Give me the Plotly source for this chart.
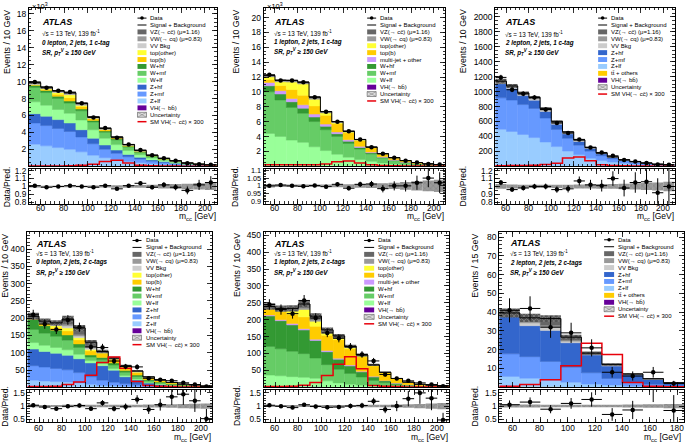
import numpy as np
import plotly.graph_objects as go

W, H = 685, 447
FONT = "Liberation Sans, Arial, sans-serif"

# ---------------- binning ----------------
centers10 = [55, 65, 75, 85, 95, 105, 115, 125, 135, 145, 155, 165, 175, 185, 195, 205]
edges10 = [50, 60, 70, 80, 90, 100, 110, 120, 130, 140, 150, 160, 170, 180, 190, 200, 210]
centers15 = [57.5, 72.5, 87.5, 102.5, 117.5, 132.5, 147.5, 162.5, 177.5]
edges15 = [50, 65, 80, 95, 110, 125, 140, 155, 170, 185]
xticks10 = [60, 80, 100, 120, 140, 160, 180, 200]
xticks15 = [60, 80, 100, 120, 140, 160, 180]

# ---------------- panel 1: 0 lepton, 1 c-tag (x10^3) ----------------
p1_data = [9.96, 9.26, 8.91, 8.76, 7.44, 5.77, 4.52, 3.36, 2.58, 1.92, 1.30, 0.95, 0.64, 0.37, 0.25, 0.17]
p1_ratio = [1.01, 0.99, 1.0, 1.01, 1.0, 0.99, 1.01, 0.97, 1.01, 1.04, 0.99, 1.02, 0.99, 0.95, 1.02, 1.05]
p1_VHbb = [0.01, 0.01, 0.01, 0.01, 0.01, 0.01, 0.01, 0.01, 0.005, 0.005, 0.003, 0.002, 0.001, 0.001, 0.001, 0.001]
p1_Zlf = [2.6, 2.4, 2.2, 2.0, 1.7, 1.3, 1.0, 0.76, 0.56, 0.42, 0.3, 0.22, 0.15, 0.1, 0.07, 0.05]
p1_Zmf = [2.5, 2.4, 2.25, 2.1, 1.75, 1.35, 1.0, 0.76, 0.56, 0.42, 0.3, 0.22, 0.15, 0.09, 0.06, 0.04]
p1_Zhf = [1.1, 1.1, 1.05, 1.0, 0.85, 0.65, 0.5, 0.38, 0.28, 0.21, 0.15, 0.11, 0.07, 0.05, 0.03, 0.02]
p1_Wlf = [1.4, 1.3, 1.2, 1.15, 1.15, 1.0, 0.8, 0.65, 0.47, 0.31, 0.22, 0.15, 0.11, 0.06, 0.034, 0.02]
p1_Wmf = [1.7, 1.5, 1.3, 1.2, 1.1, 0.92, 0.7, 0.56, 0.4, 0.28, 0.2, 0.13, 0.1, 0.05, 0.03, 0.018]
p1_Whf = [0.26, 0.25, 0.25, 0.24, 0.2, 0.18, 0.16, 0.13, 0.1, 0.06, 0.05, 0.03, 0.02, 0.014, 0.006, 0.005]
p1_topb = [0.05, 0.1, 0.25, 0.4, 0.3, 0.2, 0.15, 0.1, 0.1, 0.08, 0.05, 0.03, 0.02, 0.01, 0.005, 0.003]
p1_topo = [0.05, 0.1, 0.2, 0.35, 0.15, 0.06, 0.04, 0.03, 0.02, 0.02, 0.01, 0.01, 0.005, 0.003, 0.002, 0.001]
p1_VV = [0.05, 0.05, 0.05, 0.05, 0.04, 0.04, 0.03, 0.03, 0.02, 0.02, 0.01, 0.01, 0.01, 0.005, 0.003, 0.002]
p1_VW = [0.1, 0.1, 0.1, 0.1, 0.1, 0.05, 0.04, 0.03, 0.02, 0.02, 0.01, 0.01, 0.01, 0.005, 0.003, 0.002]
p1_VZ = [0.05, 0.05, 0.06, 0.08, 0.1, 0.08, 0.05, 0.03, 0.02, 0.01, 0.01, 0.01, 0.005, 0.003, 0.002, 0.001]
p1_sig = [0.02, 0.03, 0.04, 0.07, 0.12, 0.25, 0.55, 0.7, 0.4, 0.12, 0.05, 0.03, 0.02, 0.01, 0.01, 0.01]
p1_unc = [0.012, 0.01, 0.01, 0.01, 0.01, 0.012, 0.012, 0.015, 0.015, 0.018, 0.02, 0.025, 0.03, 0.035, 0.04, 0.045]

# ---------------- panel 2: 1 lepton, 1 c-tag (x10^3) ----------------
p2_data = [12.3, 11.55, 11.55, 11.3, 9.3, 7.35, 6.0, 4.7, 3.6, 2.57, 1.69, 1.16, 0.76, 0.5, 0.32, 0.23]
p2_ratio = [1.0, 1.005, 1.0, 0.997, 1.002, 0.995, 1.01, 0.985, 1.01, 1.012, 0.982, 1.0, 1.0, 1.02, 1.05, 1.02]
p2_VHbb = [0.02, 0.02, 0.02, 0.02, 0.02, 0.02, 0.02, 0.02, 0.01, 0.01, 0.005, 0.003, 0.002, 0.001, 0.001, 0.001]
p2_Wlf = [4.4, 4.0, 3.5, 3.2, 2.6, 2.1, 1.6, 1.2, 0.9, 0.65, 0.45, 0.3, 0.2, 0.13, 0.08, 0.05]
p2_Wmf = [5.6, 4.9, 4.4, 3.9, 3.4, 2.8, 2.4, 1.85, 1.4, 1.0, 0.65, 0.45, 0.3, 0.2, 0.13, 0.09]
p2_Whf = [0.8, 0.8, 0.75, 0.7, 0.6, 0.45, 0.35, 0.3, 0.22, 0.15, 0.1, 0.07, 0.05, 0.03, 0.02, 0.015]
p2_mj = [0.45, 0.45, 0.45, 0.45, 0.4, 0.3, 0.25, 0.2, 0.15, 0.1, 0.07, 0.05, 0.03, 0.02, 0.015, 0.01]
p2_topb = [0.4, 0.7, 1.2, 1.3, 1.1, 1.2, 1.1, 0.95, 0.8, 0.6, 0.38, 0.26, 0.17, 0.11, 0.07, 0.055]
p2_topo = [0.35, 0.5, 1.0, 1.5, 0.9, 0.3, 0.15, 0.1, 0.07, 0.04, 0.02, 0.015, 0.01, 0.005, 0.003, 0.002]
p2_VW = [0.15, 0.15, 0.15, 0.15, 0.15, 0.1, 0.08, 0.05, 0.03, 0.02, 0.01, 0.01, 0.005, 0.003, 0.002, 0.001]
p2_VZ = [0.05, 0.05, 0.08, 0.1, 0.15, 0.1, 0.07, 0.05, 0.03, 0.01, 0.01, 0.005, 0.003, 0.002, 0.001, 0.001]
p2_sig = [0.2, 0.2, 0.2, 0.2, 0.22, 0.3, 0.6, 0.7, 0.45, 0.2, 0.12, 0.08, 0.05, 0.03, 0.02, 0.01]
p2_unc = [0.01, 0.008, 0.008, 0.008, 0.008, 0.008, 0.009, 0.01, 0.012, 0.014, 0.016, 0.02, 0.025, 0.03, 0.035, 0.04]

# ---------------- panel 3: 2 lepton, 1 c-tag ----------------
p3_data = [1190, 1025, 970, 920, 760, 580, 445, 360, 250, 185, 140, 85, 65, 45, 25, 20]
p3_ratio = [1.05, 0.96, 0.98, 1.0, 1.0, 0.96, 0.97, 1.07, 1.02, 1.01, 1.1, 0.98, 1.05, 1.06, 0.92, 1.0]
p3_VHbb = [1, 1, 1, 1, 1, 1, 1, 1, 0.5, 0.5, 0.3, 0.2, 0.1, 0.1, 0.1, 0.1]
p3_tt = [5, 5, 5, 4, 4, 3, 3, 2, 2, 1, 1, 1, 1, 0.5, 0.3, 0.2]
p3_Zlf = [490, 460, 420, 380, 320, 260, 200, 150, 105, 75, 55, 38, 26, 18, 12, 8]
p3_Zmf = [420, 420, 400, 390, 320, 230, 170, 130, 95, 65, 45, 32, 22, 15, 10, 7]
p3_Zhf = [190, 155, 120, 110, 90, 70, 60, 50, 38, 25, 18, 12, 9, 6, 4, 3]
p3_VV = [20, 20, 20, 18, 15, 12, 10, 8, 6, 4, 3, 2, 2, 1, 1, 1]
p3_VW = [8, 8, 8, 8, 7, 6, 5, 4, 3, 2, 2, 1, 1, 1, 0.5, 0.5]
p3_VZ = [5, 6, 8, 12, 18, 20, 12, 8, 4, 3, 2, 1, 1, 1, 0.5, 0.5]
p3_sig = [8, 10, 12, 15, 25, 42, 110, 125, 75, 22, 10, 6, 4, 3, 2, 1]
p3_unc = [0.03, 0.025, 0.02, 0.02, 0.02, 0.02, 0.02, 0.025, 0.025, 0.03, 0.03, 0.035, 0.04, 0.045, 0.05, 0.06]

# ---------------- panel 4: 0 lepton, 2 c-tags ----------------
p4_data = [210, 183, 167, 195, 174, 117, 115, 76, 60, 59, 26, 22, 19, 13, 8, 2]
p4_ratio = [1.03, 0.96, 0.9, 0.99, 1.02, 0.9, 1.12, 0.9, 0.97, 1.25, 0.87, 1.05, 1.35, 1.45, 1.2, 0.52]
p4_VHbb = [0.5, 0.5, 0.5, 0.5, 0.5, 0.5, 0.5, 0.5, 0.3, 0.2, 0.1, 0.1, 0.05, 0.05, 0.05, 0.05]
p4_Zlf = [20, 18, 16, 15, 12, 8, 5, 4, 3, 2, 1, 1, 0.5, 0.3, 0.2, 0.1]
p4_Zmf = [42, 40, 38, 35, 30, 22, 15, 10, 7, 5, 3, 2, 1.5, 1, 0.7, 0.4]
p4_Zhf = [48, 45, 44, 42, 40, 40, 42, 35, 20, 14, 8, 5, 3, 2, 1.3, 0.8]
p4_Wlf = [19, 18, 17, 16, 13, 7, 6, 5, 4, 3, 2, 1.5, 1, 0.7, 0.5, 0.3]
p4_Wmf = [38, 35, 32, 28, 20, 10, 11, 10, 9, 7, 5, 3.5, 2.5, 1.5, 1.2, 0.6]
p4_Whf = [29, 22, 18, 15, 10, 6, 7, 6, 5, 4, 3, 2, 1.5, 1, 0.8, 0.5]
p4_topb = [3, 5, 7, 12, 12, 12, 12, 10, 9, 8, 6, 4.5, 3, 2, 1.6, 0.9]
p4_topo = [2, 2, 6, 8, 6, 4, 2, 2, 2, 1, 1, 0.5, 0.5, 0.3, 0.2, 0.1]
p4_VV = [1, 2, 3, 6, 5, 4, 1, 1, 1, 1, 0.5, 0.5, 0.2, 0.1, 0.1, 0.05]
p4_VW = [1, 2, 2, 5, 4, 3, 1, 1, 1, 1, 0.3, 0.3, 0.2, 0.1, 0.1, 0.05]
p4_VZ = [2, 2, 3, 15, 19, 14, 1, 0, 1, 1, 0.2, 0.2, 0.1, 0, 0, 0]
p4_sig = [2, 2, 3, 8, 15, 35, 72, 88, 55, 17, 5, 3, 2, 1, 1, 1]
p4_unc = [0.05, 0.04, 0.04, 0.05, 0.05, 0.05, 0.05, 0.05, 0.05, 0.05, 0.06, 0.06, 0.07, 0.08, 0.09, 0.1]

# ---------------- panel 5: 1 lepton, 2 c-tags ----------------
p5_data = [245, 230, 218, 257, 205, 161, 145, 120, 97, 78, 38, 26, 19, 13, 8, 3]
p5_ratio = [1.03, 0.99, 0.94, 1.05, 0.98, 0.95, 0.96, 1.0, 1.02, 1.18, 0.87, 1.0, 1.28, 1.5, 1.3, 0.47]
p5_VHbb = [1, 1, 1.5, 1.5, 1.5, 1, 1, 1, 0.5, 0.3, 0.2, 0.1, 0.1, 0.05, 0.05, 0.05]
p5_Wlf = [35, 33, 30, 28, 25, 18, 12, 8, 6, 4, 3, 2, 1, 0.6, 0.4, 0.3]
p5_Wmf = [85, 80, 75, 70, 60, 48, 40, 32, 24, 16, 10, 6, 4, 2.2, 1.6, 1.2]
p5_Whf = [90, 83, 78, 70, 52, 38, 30, 22, 15, 10, 6, 4, 2, 1.2, 0.8, 0.6]
p5_mj = [3, 3, 4, 4, 4, 4, 3, 3, 2, 2, 1, 0.8, 0.5, 0.3, 0.2, 0.2]
p5_topb = [20, 25, 28, 35, 38, 45, 55, 48, 43, 31, 22, 12.5, 7, 4.2, 3, 2.5]
p5_topo = [0, 3, 10, 22, 15, 6, 5, 4, 3, 2, 1.5, 0.5, 0.3, 0.2, 0.2, 0.2]
p5_VW = [2, 2, 3, 6, 5, 4, 3, 2, 1, 0.5, 0.3, 0.1, 0.1, 0, 0, 0]
p5_VZ = [3, 3, 4, 10, 10, 6, 3, 1, 1, 0.5, 0.2, 0.1, 0.1, 0, 0, 0]
p5_sig = [2, 2, 3, 6, 14, 35, 68, 90, 55, 5, 3, 2, 1, 1, 1, 1]
p5_unc = [0.04, 0.04, 0.04, 0.04, 0.04, 0.04, 0.04, 0.04, 0.045, 0.05, 0.05, 0.06, 0.07, 0.08, 0.1, 0.12]

# ---------------- panel 6: 2 lepton, 2 c-tags (15 GeV bins) ----------------
p6_data = [41, 42, 32, 29, 21, 8, 6, 8, 2]
p6_ratio = [1.05, 1.15, 0.88, 1.1, 1.25, 0.68, 0.85, 1.78, 0.83]
p6_VHbb = [0.1, 0.1, 0.1, 0.1, 0.1, 0.1, 0.05, 0.02, 0.01]
p6_tt = [0.2, 0.2, 0.2, 0.1, 0.1, 0.1, 0.05, 0.05, 0.02]
p6_Zlf = [5.5, 4.5, 3.5, 2.5, 1.5, 1.0, 0.5, 0.3, 0.2]
p6_Zmf = [12, 11.5, 10, 8, 6, 3.5, 2, 1.2, 0.6]
p6_Zhf = [20.5, 16.5, 16.5, 13, 9.5, 6.6, 4, 2.7, 1.4]
p6_VV = [0.5, 1.5, 1.8, 0.8, 0.3, 0.3, 0.2, 0.1, 0.1]
p6_VW = [0.3, 1.2, 1.0, 0.6, 0.2, 0.2, 0.1, 0.1, 0.05]
p6_VZ = [0.5, 1.5, 3.5, 1.6, 0.5, 0.4, 0.2, 0.1, 0.05]
p6_sig = [0.5, 1.5, 4, 11.5, 23.5, 17.5, 2.5, 0.5, 0.3]
p6_unc = [0.06, 0.06, 0.05, 0.05, 0.05, 0.05, 0.06, 0.07, 0.08]

# ---------------- styles ----------------
COL = {
    'VZ': '#666666', 'VW': '#999999', 'VV': '#cccccc',
    'topo': '#ffff33', 'topb': '#ffcc00', 'mj': '#cc99ff',
    'Whf': '#339933', 'Wmf': '#66cc66', 'Wlf': '#99ff99',
    'Zhf': '#3366cc', 'Zmf': '#6699ff', 'Zlf': '#99ccff',
    'VHbb': '#660099', 'tt': '#ffcc00',
}
LABEL = {
    'VZ': 'VZ(→ cc̄) (μ=1.16)', 'VW': 'VW(→ cq) (μ=0.83)', 'VV': 'VV Bkg',
    'topo': 'top(other)', 'topb': 'top(b)', 'mj': 'multi-jet + other',
    'Whf': 'W+hf', 'Wmf': 'W+mf', 'Wlf': 'W+lf',
    'Zhf': 'Z+hf', 'Zmf': 'Z+mf', 'Zlf': 'Z+lf',
    'VHbb': 'VH(→ bb̄)', 'tt': 'tt̄ + others',
}

panels = [
    dict(c=centers10, e=edges10, bw=10, xt=xticks10, xr=[50, 210], xpx=(29, 217), ypx=(5, 165.5), rpx=(168, 203.5),
         yr=[0, 18.7], yt=[2, 4, 6, 8, 10, 12, 14, 16, 18], ymin=0.5, scale=1000,
         rr=[0.78, 1.225], rt=[0.8, 0.9, 1, 1.1, 1.2], rmin=0.05, rfont=8.3,
         data=p1_data, ratio=p1_ratio, sig=p1_sig, unc=p1_unc,
         comps=[('VHbb', p1_VHbb), ('Zlf', p1_Zlf), ('Zmf', p1_Zmf), ('Zhf', p1_Zhf), ('Wlf', p1_Wlf),
                ('Wmf', p1_Wmf), ('Whf', p1_Whf), ('topb', p1_topb), ('topo', p1_topo), ('VV', p1_VV),
                ('VW', p1_VW), ('VZ', p1_VZ)],
         chan='0 lepton, 2 jets, 1 c-tag', ytitle='Events / 10 GeV', ytx=7.5, atx=41.5, txt_y=(19.3, 30.5, 40.3, 50),
         leg=(137.7, 146.7, 149.3, 15.3), xlab_y=207.8, xtitle_bottom=222.5),
    dict(c=centers10, e=edges10, bw=10, xt=xticks10, xr=[50, 210], xpx=(264, 446), ypx=(5, 165.5), rpx=(168, 203.5),
         yr=[0, 21.3], yt=[2, 4, 6, 8, 10, 12, 14, 16, 18, 20], ymin=0.5, scale=1000,
         rr=[0.885, 1.11], rt=[0.9, 0.95, 1, 1.05, 1.1], rmin=0.01, rfont=7.3,
         data=p2_data, ratio=p2_ratio, sig=p2_sig, unc=p2_unc,
         comps=[('VHbb', p2_VHbb), ('Wlf', p2_Wlf), ('Wmf', p2_Wmf), ('Whf', p2_Whf), ('mj', p2_mj),
                ('topb', p2_topb), ('topo', p2_topo), ('VW', p2_VW), ('VZ', p2_VZ)],
         chan='1 lepton, 2 jets, 1 c-tag', ytitle='Events / 10 GeV', ytx=236.5, atx=273, txt_y=(19.3, 30, 39.5, 49.5),
         leg=(367.7, 376.7, 379.3, 15.3), xlab_y=207.8, xtitle_bottom=222.5),
    dict(c=centers10, e=edges10, bw=10, xt=xticks10, xr=[50, 210], xpx=(496, 675.5), ypx=(5, 165.5), rpx=(168, 203.5),
         yr=[0, 2120], yt=[200, 400, 600, 800, 1000, 1200, 1400, 1600, 1800, 2000], ymin=50, scale=1,
         rr=[0.78, 1.225], rt=[0.8, 0.9, 1, 1.1, 1.2], rmin=0.05, rfont=8.3,
         data=p3_data, ratio=p3_ratio, sig=p3_sig, unc=p3_unc,
         comps=[('VHbb', p3_VHbb), ('tt', p3_tt), ('Zlf', p3_Zlf), ('Zmf', p3_Zmf), ('Zhf', p3_Zhf),
                ('VV', p3_VV), ('VW', p3_VW), ('VZ', p3_VZ)],
         chan='2 lepton, 2 jets, 1 c-tag', ytitle='Events / 10 GeV', ytx=464.5, atx=505, txt_y=(19.3, 31, 40.5, 50),
         leg=(599, 608, 610.7, 15.3), xlab_y=207.8, xtitle_bottom=222.5),
    dict(c=centers10, e=edges10, bw=10, xt=xticks10, xr=[50, 210], xpx=(27.5, 212.5), ypx=(232, 389.5), rpx=(392, 424.5),
         yr=[0, 450], yt=[50, 100, 150, 200, 250, 300, 350, 400], ymin=10, scale=1,
         rr=[0.4, 1.62], rt=[0.5, 1, 1.5], rmin=0.1, rfont=8.3,
         data=p4_data, ratio=p4_ratio, sig=p4_sig, unc=p4_unc,
         comps=[('VHbb', p4_VHbb), ('Zlf', p4_Zlf), ('Zmf', p4_Zmf), ('Zhf', p4_Zhf), ('Wlf', p4_Wlf),
                ('Wmf', p4_Wmf), ('Whf', p4_Whf), ('topb', p4_topb), ('topo', p4_topo), ('VV', p4_VV),
                ('VW', p4_VW), ('VZ', p4_VZ)],
         chan='0 lepton, 2 jets, 2 c-tags', ytitle='Events / 10 GeV', ytx=5.5, atx=35, txt_y=(244, 253.5, 263, 273),
         leg=(132.7, 141.7, 145.7, 240.7), xlab_y=431.2, xtitle_bottom=446.5),
    dict(c=centers10, e=edges10, bw=10, xt=xticks10, xr=[50, 210], xpx=(264, 449.5), ypx=(232, 389.5), rpx=(392, 424.5),
         yr=[0, 460], yt=[50, 100, 150, 200, 250, 300, 350, 400, 450], ymin=10, scale=1,
         rr=[0.4, 1.62], rt=[0.5, 1, 1.5], rmin=0.1, rfont=8.3,
         data=p5_data, ratio=p5_ratio, sig=p5_sig, unc=p5_unc,
         comps=[('VHbb', p5_VHbb), ('Wlf', p5_Wlf), ('Wmf', p5_Wmf), ('Whf', p5_Whf), ('mj', p5_mj),
                ('topb', p5_topb), ('topo', p5_topo), ('VW', p5_VW), ('VZ', p5_VZ)],
         chan='1 lepton, 2 jets, 2 c-tags', ytitle='Events / 10 GeV', ytx=238, atx=273, txt_y=(244, 253.5, 263, 273),
         leg=(364.7, 374.7, 377.3, 240.7), xlab_y=431.2, xtitle_bottom=446.5),
    dict(c=centers15, e=edges15, bw=15, xt=xticks15, xr=[50, 185], xpx=(500, 685), ypx=(232, 389.5), rpx=(392, 424.5),
         yr=[0, 82.8], yt=[10, 20, 30, 40, 50, 60, 70, 80], ymin=2, scale=1,
         rr=[0.4, 1.62], rt=[0.5, 1, 1.5], rmin=0.1, rfont=8.3,
         data=p6_data, ratio=p6_ratio, sig=p6_sig, unc=p6_unc,
         comps=[('VHbb', p6_VHbb), ('tt', p6_tt), ('Zlf', p6_Zlf), ('Zmf', p6_Zmf), ('Zhf', p6_Zhf),
                ('VV', p6_VV), ('VW', p6_VW), ('VZ', p6_VZ)],
         chan='2 lepton, 2 jets, 2 c-tags', ytitle='Events / 15 GeV', ytx=476, atx=510, txt_y=(243.5, 253.5, 263.5, 273.5),
         leg=(605, 615, 618.3, 240), xlab_y=431.2, xtitle_bottom=446.5),
]


def fx(px):
    return px / W


def fy(py):
    return 1 - py / H


fig = go.Figure()
layout = {}
shapes = []
annotations = []

axis_common = dict(showline=True, linecolor='black', linewidth=1, mirror='allticks', ticks='inside',
                   ticklen=5, tickwidth=0.8, tickcolor='black', showgrid=False, zeroline=False)


def tfont(size):
    return dict(size=size, family=FONT, color='black')


def ann(x, y, text, size=6.2, xanchor='left', yanchor='middle', angle=0, xref='paper'):
    annotations.append(dict(x=(fx(x) if xref == 'paper' else x), y=fy(y), xref=xref, yref='paper', text=text,
                            showarrow=False, xanchor=xanchor, yanchor=yanchor, textangle=angle, borderpad=0,
                            font=tfont(size)))


HATCH_MAIN = dict(shape='x', size=3.5, solidity=0.22)
HATCH_RATIO = dict(shape='x', size=4, solidity=0.15)

for i, P in enumerate(panels):
    mi, ri = 2 * i + 1, 2 * i + 2
    mx = 'x' if mi == 1 else f'x{mi}'
    my = 'y' if mi == 1 else f'y{mi}'
    rx, ry = f'x{ri}', f'y{ri}'
    c = np.array(P['c'], float)
    bw = P['bw']
    n = len(c)

    # stacked backgrounds
    cum = np.zeros(n)
    for key, vals in P['comps']:
        v = np.array(vals, float)
        fig.add_trace(go.Bar(x=c, y=v, base=cum.copy(), width=bw, xaxis=mx, yaxis=my,
                             marker=dict(color=COL[key], line=dict(width=0.5, color=COL[key])),
                             showlegend=False, hoverinfo='skip'))
        cum = cum + v
    tot = cum
    u = np.array(P['unc'], float)

    # uncertainty hatch on stack
    fig.add_trace(go.Bar(x=c, y=2 * tot * u, base=tot * (1 - u), width=bw, xaxis=mx, yaxis=my,
                         marker=dict(color='#555555', line=dict(width=0), pattern=HATCH_MAIN),
                         showlegend=False, hoverinfo='skip'))
    # signal + background outline
    edges = list(P['e'])
    fig.add_trace(go.Scatter(x=edges, y=list(tot) + [tot[-1]], mode='lines', line=dict(color='black', width=1, shape='hv'),
                             xaxis=mx, yaxis=my, showlegend=False, hoverinfo='skip'))
    # SM VH(cc) x 300
    sig = list(P['sig'])
    fig.add_trace(go.Scatter(x=edges, y=sig + [sig[-1]], mode='lines', line=dict(color='#e8000b', width=1.5, shape='hv'),
                             xaxis=mx, yaxis=my, showlegend=False, hoverinfo='skip'))
    # data
    d = np.array(P['data'], float)
    derr = np.sqrt(d * P['scale']) / P['scale']
    fig.add_trace(go.Scatter(x=c, y=d, mode='markers', xaxis=mx, yaxis=my,
                             marker=dict(color='black', size=4.5),
                             error_y=dict(type='data', array=derr, color='black', thickness=1, width=0),
                             error_x=dict(type='data', array=[bw / 2] * n, color='black', thickness=1, width=0),
                             showlegend=False, hoverinfo='skip'))

    # ratio band and points
    fig.add_trace(go.Bar(x=c, y=2 * u, base=1 - u, width=bw, xaxis=rx, yaxis=ry,
                         marker=dict(color='#9a9a9a', line=dict(width=0), pattern=HATCH_RATIO),
                         showlegend=False, hoverinfo='skip'))
    r = np.array(P['ratio'], float)
    rerr = r * derr / d
    fig.add_trace(go.Scatter(x=c, y=r, mode='markers', xaxis=rx, yaxis=ry,
                             marker=dict(color='black', size=4.5),
                             error_y=dict(type='data', array=rerr, color='black', thickness=1, width=0),
                             error_x=dict(type='data', array=[bw / 2] * n, color='black', thickness=1, width=0),
                             showlegend=False, hoverinfo='skip'))

    x0, x1 = P['xpx']
    y0, y1 = P['ypx']
    r0, r1 = P['rpx']
    xdom = [fx(x0), fx(x1)]
    xminor = dict(ticks='inside', ticklen=2.5, dtick=4 if bw == 10 else 5, tick0=0, tickcolor='black')
    mxk = 'xaxis' if mi == 1 else f'xaxis{mi}'
    myk = 'yaxis' if mi == 1 else f'yaxis{mi}'
    layout[mxk] = dict(domain=xdom, range=P['xr'], anchor=my, tickvals=P['xt'], showticklabels=False,
                       minor=xminor, tickfont=tfont(8.5), **axis_common)
    layout[myk] = dict(domain=[fy(y1), fy(y0)], range=P['yr'], anchor=mx, tickvals=P['yt'],
                       minor=dict(ticks='inside', ticklen=2.5, dtick=P['ymin'], tick0=0, tickcolor='black'),
                       tickfont=tfont(8.5), **axis_common)
    layout[f'xaxis{ri}'] = dict(domain=xdom, range=P['xr'], anchor=ry, tickvals=P['xt'], showticklabels=False,
                                minor=xminor, tickfont=tfont(8.5), **axis_common)
    layout[f'yaxis{ri}'] = dict(domain=[fy(r1), fy(r0)], range=P['rr'], anchor=rx, tickvals=P['rt'],
                                minor=dict(ticks='inside', ticklen=2.5, dtick=P['rmin'], tick0=0, tickcolor='black'),
                                tickfont=tfont(P['rfont']), **axis_common)

    # x tick labels of the ratio pad (placed on the ratio x axis scale)
    for tv in P['xt']:
        ann(tv, P['xlab_y'], str(tv), size=8.3, xanchor='center', xref=rx)

    # titles
    ann(P['ytx'], y0 + 0.5, P['ytitle'], size=8.8, xanchor='center', yanchor='top', angle=-90)
    ann(P['ytx'] - 0.5, (r0 + r1) / 2, 'Data/Pred.', size=8.5, xanchor='center', yanchor='middle', angle=-90)
    ann(min(x1, 683), P['xtitle_bottom'], 'm<sub>cc</sub> [GeV]', size=8.5, xanchor='right', yanchor='bottom')
    if P['scale'] == 1000:
        ann(x0 + 2, 3.2, '×10<sup>3</sup>', size=7.5)

    # ATLAS labels
    ty = P['txt_y']
    ann(P['atx'], ty[0], '<b><i>ATLAS</i></b>', size=9)
    ann(P['atx'], ty[1], '√s = 13 TeV, 139 fb<sup>-1</sup>', size=6.3)
    ann(P['atx'], ty[2], '<b><i>' + P['chan'] + '</i></b>', size=6.3)
    ann(P['atx'], ty[3], '<b><i>SR, p<sub>T</sub><sup>V</sup> ≥ 150 GeV</i></b>', size=6.3)

    # legend
    sx0, sx1, tx, ly = P['leg']
    entries = [('data', 'Data'), ('line', 'Signal + Background')]
    entries += [(k, LABEL[k]) for k, _ in reversed(P['comps'])]
    entries += [('hatch', 'Uncertainty'), ('red', 'SM VH(→ cc̄) × 300')]
    dy = 7.0 if i < 3 else 7.04
    for j, (kind, label) in enumerate(entries):
        yy = ly + j * dy
        if kind == 'data':
            shapes.append(dict(type='line', xref='paper', yref='paper', x0=fx(sx0), x1=fx(sx1), y0=fy(yy), y1=fy(yy),
                               line=dict(color='black', width=1)))
            shapes.append(dict(type='circle', xref='paper', yref='paper', x0=fx((sx0 + sx1) / 2 - 1.8),
                               x1=fx((sx0 + sx1) / 2 + 1.8), y0=fy(yy - 1.8), y1=fy(yy + 1.8),
                               fillcolor='black', line=dict(width=0)))
        elif kind == 'line':
            shapes.append(dict(type='line', xref='paper', yref='paper', x0=fx(sx0), x1=fx(sx1), y0=fy(yy), y1=fy(yy),
                               line=dict(color='black', width=1)))
        elif kind == 'red':
            shapes.append(dict(type='line', xref='paper', yref='paper', x0=fx(sx0), x1=fx(sx1), y0=fy(yy), y1=fy(yy),
                               line=dict(color='#e8000b', width=1.5)))
        elif kind == 'hatch':
            shapes.append(dict(type='rect', xref='paper', yref='paper', x0=fx(sx0), x1=fx(sx1), y0=fy(yy + 2.5),
                               y1=fy(yy - 2.5), fillcolor='#dcdcdc', line=dict(color='#555555', width=0.6)))
            shapes.append(dict(type='line', xref='paper', yref='paper', x0=fx(sx0), x1=fx(sx1), y0=fy(yy + 2.5),
                               y1=fy(yy - 2.5), line=dict(color='#777777', width=0.5)))
            shapes.append(dict(type='line', xref='paper', yref='paper', x0=fx(sx0), x1=fx(sx1), y0=fy(yy - 2.5),
                               y1=fy(yy + 2.5), line=dict(color='#777777', width=0.5)))
        else:
            shapes.append(dict(type='rect', xref='paper', yref='paper', x0=fx(sx0), x1=fx(sx1), y0=fy(yy + 2.5),
                               y1=fy(yy - 2.5), fillcolor=COL[kind], line=dict(width=0)))
        ann(tx, yy, label, size=6)

fig.update_layout(**layout)
fig.update_layout(width=W, height=H, autosize=False, margin=dict(l=0, r=0, t=0, b=0),
                  paper_bgcolor='white', plot_bgcolor='white', barmode='overlay',
                  shapes=shapes, annotations=annotations, showlegend=False,
                  font=dict(family=FONT, color='black'))
fig.write_html('out.html', config={'displayModeBar': False, 'staticPlot': True},
               post_script="document.body.style.margin='0px';document.body.style.padding='0px';"
                           "document.documentElement.style.overflow='hidden';")
